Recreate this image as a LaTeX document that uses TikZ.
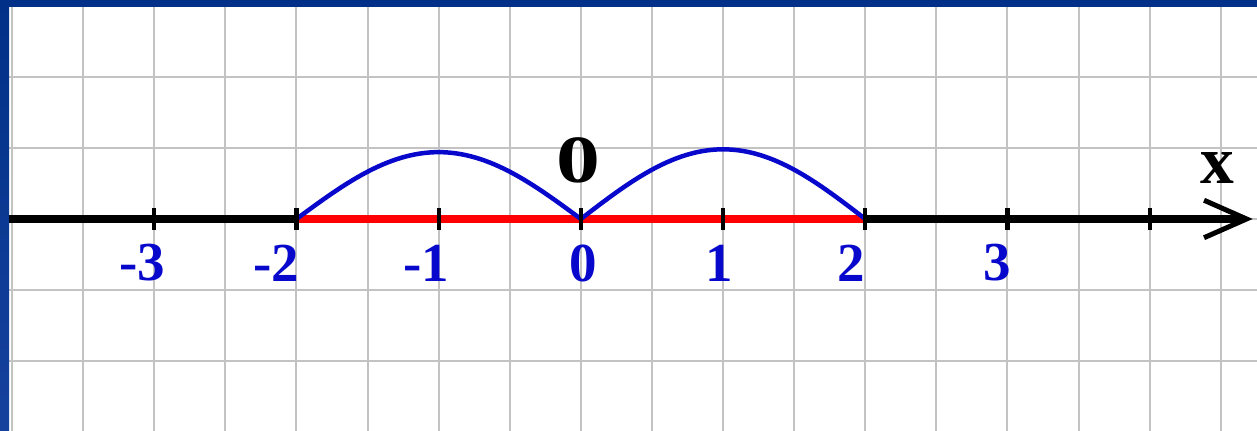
\documentclass[tikz,border=0pt]{standalone}
\usepackage{fontspec}
\setmainfont{Liberation Serif}
\usepackage{tikz}
\usetikzlibrary{arrows.meta}
\definecolor{slidenavy}{RGB}{0,48,135}
\definecolor{slidenavylow}{RGB}{22,66,158}
\definecolor{gridgray}{RGB}{195,195,195}
\definecolor{numblue}{RGB}{8,8,205}

\begin{document}
\begin{tikzpicture}[x=2cm,y=1cm,
  gridline/.style={gridgray, line width=0.8pt},
  axisline/.style={line width=3.2pt},
  tickmark/.style={line width=1.7pt},
  arcline/.style={numblue, line width=1.8pt},
  numlab/.style={numblue, font=\fontsize{22}{22}\selectfont\bfseries},
  biglab/.style={font=\fontsize{27}{27}\selectfont\bfseries}]
  \useasboundingbox (-4.085,-2.98) rectangle (4.755,3.08);
  \fill[white] (-4.085,-2.98) rectangle (4.755,3.08);
  \foreach \x in {-4,-3.5,...,4.5}
    \draw[gridline] (\x,-2.98) -- (\x,3.08);
  \foreach \y in {-2,...,3}
    \draw[gridline] (-4.085,\y) -- (4.755,\y);
  \coordinate (start) at (-4.085,0);
  \coordinate (tip) at (4.725,0);
  \draw[axisline, -{Straight Barb[length=17pt,width=15pt,line width=2pt 0]}] (start) -- (tip);
  \foreach \x/\nm in {-3/m3,-2/m2,-1/m1,0/0,1/1,2/2,3/3,4/4}
    \coordinate (t\nm) at (\x,0);
  \draw[axisline, red] (tm2) -- (t2);
  \coordinate (pkl) at (-1,0.94);
  \coordinate (pkr) at (1,0.98);
  \draw[arcline] (tm2) sin (pkl) cos (t0) sin (pkr) cos (t2);
  \foreach \nm in {m3,m2,m1,0,1,2,3,4}
    \draw[tickmark] ([yshift=-0.155cm]t\nm) -- ([yshift=0.155cm]t\nm);
  \foreach \x/\nm/\lab in {-3.085/m3/-3,-2.14/m2/-2,-1.085/m1/-1,0.015/0/0,0.97/1/1,1.905/2/2,2.925/3/3}
    \node[numlab] (l\nm) at (\x,-0.62) {\lab};
  \node[biglab] (origin) at (-0.02,0.82) {\scalebox{1.3}[1]{0}};
  \node[biglab] (xlab) at (4.475,0.72) {x};
  \fill[slidenavy] (-4.085,2.98) rectangle (4.755,3.08);
  \shade[top color=slidenavy, bottom color=slidenavylow] (-4.085,-2.98) rectangle (-4.0215,3.08);
\end{tikzpicture}
\end{document}
